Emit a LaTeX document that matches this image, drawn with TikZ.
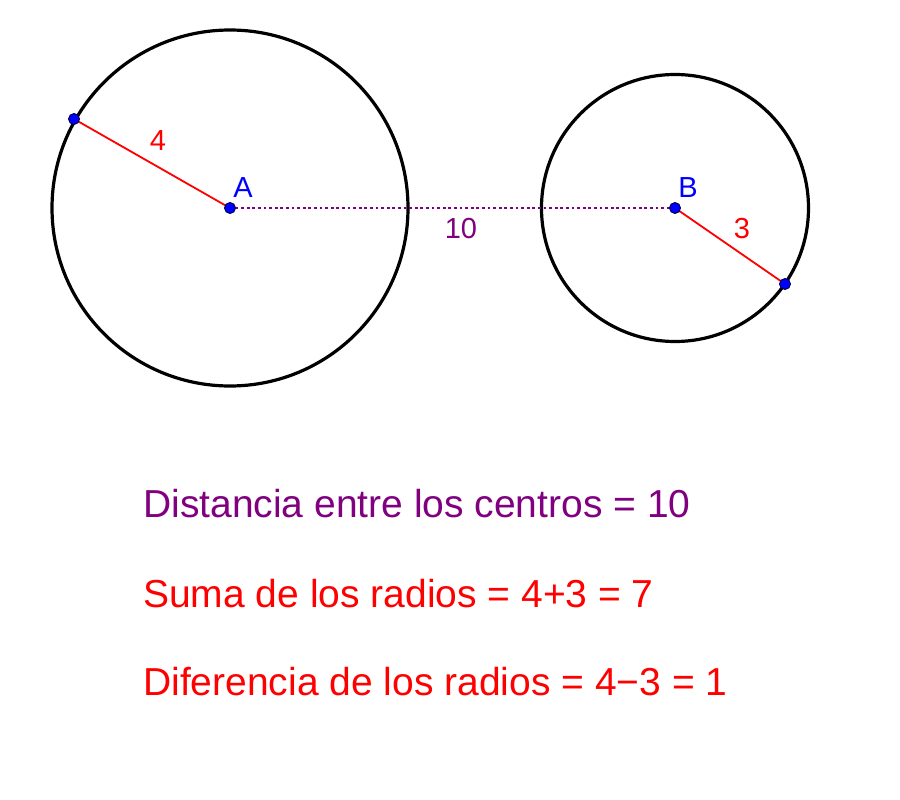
\documentclass[tikz,border=0pt]{standalone}
\usepackage{fontspec}
\setmainfont{Liberation Sans}
\definecolor{ggpurple}{RGB}{128,0,128}
\begin{document}
\begin{tikzpicture}[x=1pt,y=-1pt,
  circ/.style={draw=black,line width=3.2pt},
  radius line/.style={draw=red,line width=1.8pt},
  pt/.style={circle,fill=blue,draw=black!70!blue,line width=0.9pt,inner sep=0pt,minimum size=11pt},
  lbl/.style={font=\fontsize{29}{34}\selectfont,inner sep=0pt},
  big/.style={font=\fontsize{39}{46}\selectfont,inner sep=0pt,anchor=base west}]
\useasboundingbox[fill=white] (0,0) rectangle (900,800);
\coordinate (A) at (230,208);
\coordinate (B) at (675,208);
\draw[circ] (A) circle[radius=178];
\draw[circ] (B) circle[radius=133.5];
\draw[ggpurple,line width=2.8pt,dash pattern=on 2.8pt off 2.8pt] (A) -- (B);
\coordinate (P) at (74,119);
\coordinate (Q) at (785,284);
\draw[radius line] (A) -- (P);
\draw[radius line] (B) -- (Q);
\node[pt] (pA) at (A) {};
\node[pt] (pB) at (B) {};
\node[pt] (pP) at (P) {};
\node[pt] (pQ) at (Q) {};
\node[lbl,text=red] (l4) at (158,141) {4};
\node[lbl,text=blue] (lA) at (243,188) {A};
\node[lbl,text=ggpurple] (l10) at (461,229) {10};
\node[lbl,text=blue] (lB) at (688,188) {B};
\node[lbl,text=red] (l3) at (742,229) {3};
\node[big,text=ggpurple] (t1) at (143,517) {Distancia entre los centros = 10};
\node[big,text=red] (t2) at (143,607) {Suma de los radios = 4+3 = 7};
\node[big,text=red] (t3) at (143,695) {Diferencia de los radios = 4−3 = 1};
\end{tikzpicture}
\end{document}
